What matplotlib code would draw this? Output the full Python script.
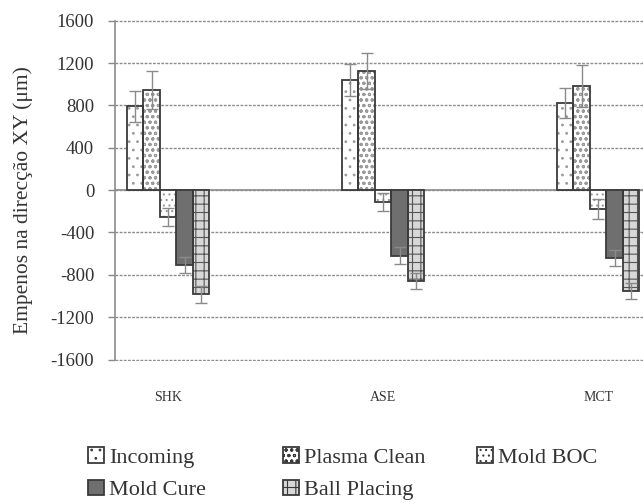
import numpy as np
import matplotlib
matplotlib.use("Agg")
import matplotlib.pyplot as plt
from matplotlib.patches import Patch

plt.rcParams['font.family'] = ['Liberation Serif', 'DejaVu Serif']
plt.rcParams['hatch.linewidth'] = 0.8

# data
sites = ["SHK", "ASE", "MCT"]
steps = ["Incoming", "Plasma Clean", "Mold BOC", "Mold Cure", "Ball Placing"]
means = {
    "Incoming":     [790, 1040, 825],
    "Plasma Clean": [945, 1125, 985],
    "Mold BOC":     [-250, -115, -180],
    "Mold Cure":    [-710, -620, -645],
    "Ball Placing": [-985, -860, -950],
}
errs = {
    "Incoming":     [145, 150, 140],
    "Plasma Clean": [180, 170, 200],
    "Mold BOC":     [85, 85, 95],
    "Mold Cure":    [75, 80, 75],
    "Ball Placing": [80, 75, 75],
}
yticks = [-1600, -1200, -800, -400, 0, 400, 800, 1200, 1600]

# look of each series: face, hatch
styles = {
    "Incoming":     ("white", ".."),
    "Plasma Clean": ("white", "ooo"),
    "Mold BOC":     ("white", "..."),
    "Mold Cure":    ("#6f6f6f", ""),
    "Ball Placing": ("#d8d8d8", "++"),
}
edge = "#3a3a3a"
hatch_col = "#9a9a9a"

# pixel rows of +1600 / -1600 in the reference
top_px, bot_px = 20.7, 359.5
pad = 12  # data units of headroom so the edge gridlines are not clipped
px_per_unit = (bot_px - top_px) / 3200
fig = plt.figure(figsize=(6.43, 5.04), dpi=100)
ax = fig.add_axes([115/643, 1 - (bot_px + pad*px_per_unit)/504, 1 - 115/643,
                   (bot_px - top_px + 2*pad*px_per_unit)/504])

x = np.arange(len(sites))
w = 0.077
for i, s in enumerate(steps):
    pos = x + (i - 2) * w
    face, hatch = styles[s]
    hc = hatch_col if s != "Ball Placing" else "#555555"
    ax.bar(pos, means[s], w, color=face, hatch=hatch, edgecolor=hc, linewidth=0, zorder=2)
    ax.bar(pos, means[s], w, color="none", edgecolor=edge, linewidth=1.3, zorder=3)
    ax.errorbar(pos, means[s], yerr=errs[s], fmt="none", ecolor="#8a8a8a",
                elinewidth=1, capsize=4, capthick=1, zorder=4)

ax.set_xlim(-0.247, 2.209)
ax.set_ylim(-1600 - pad, 1600 + pad)
ax.set_yticks(yticks)
ax.set_yticklabels([str(v) for v in yticks], fontsize=13.5, color="#333333")
ax.set_xticks(x)
ax.set_xticklabels(sites, fontsize=10, color="#333333")
ax.tick_params(axis="x", length=0, pad=22)
ax.tick_params(axis="y", length=5, width=1, color="#888888", pad=10)

ax.grid(axis="y", color="#8c8c8c", linestyle=(0, (2, 1)), linewidth=1, zorder=0)
ax.axhline(0, color="#8c8c8c", linewidth=1.2, zorder=1)
for side in ["top", "right", "bottom"]:
    ax.spines[side].set_visible(False)
ax.spines["left"].set_color("#8c8c8c")
ax.spines["left"].set_linewidth(1.2)
ax.spines["left"].set_bounds(-1600, 1600)

ax.set_ylabel("Empenos na direcção XY (μm)", fontsize=15.5, color="#333333")
ax.yaxis.set_label_coords(-0.155, 0.47)

handles = {s: Patch(facecolor=styles[s][0], hatch=styles[s][1], edgecolor=edge, linewidth=1.3)
           for s in steps}
# legend laid out in rows like the reference: one legend per column
columns = [(["Incoming", "Mold Cure"], 88), (["Plasma Clean", "Ball Placing"], 283),
           (["Mold BOC"], 477)]
for names, xpx in columns:
    fig.legend([handles[s] for s in names], names, loc="upper left",
               bbox_to_anchor=(xpx/643, 1 - 447/504), frameon=False, borderpad=0,
               borderaxespad=0, prop={"size": 16}, handlelength=0.7, handleheight=0.7,
               handletextpad=0.25, labelspacing=0.55, labelcolor="#333333")

fig.savefig("out.png", dpi=100)
